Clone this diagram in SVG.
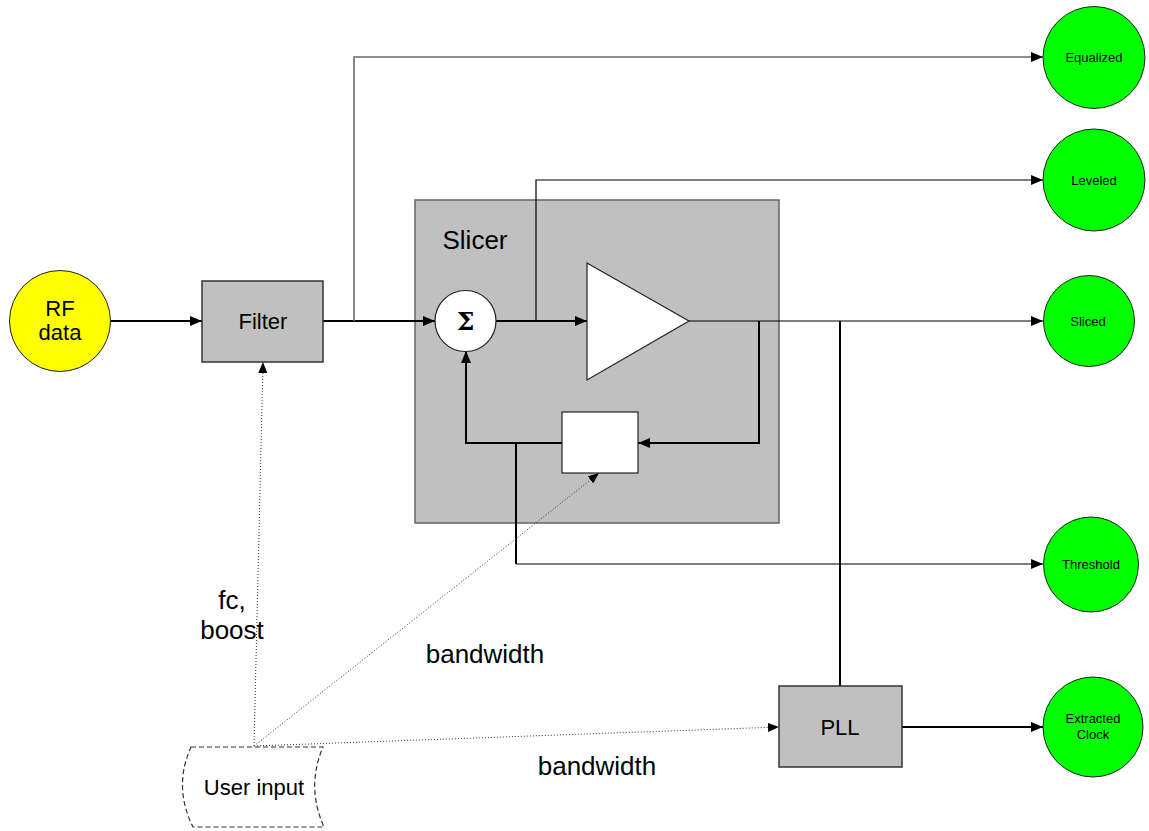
<svg xmlns="http://www.w3.org/2000/svg" width="1149" height="831" viewBox="0 0 1149 831">
<style>
text{font-family:"Liberation Sans",Arial,sans-serif;fill:#000;text-anchor:middle}
.big{font-size:22px}
.lab{font-size:26px}
.sm{font-size:13px}
.box{fill:#c0c0c0;stroke:#333;stroke-width:1.5}
.green{fill:#00ff00;stroke:#222;stroke-width:1}
.w{fill:#fff;stroke:#222;stroke-width:1.2}
.thick{fill:none;stroke:#000;stroke-width:2}
.thin{fill:none;stroke:#000;stroke-width:1.2}
.gray{fill:none;stroke:#6a6a6a;stroke-width:1.6}
.dot{fill:none;stroke:#333;stroke-width:1;stroke-dasharray:1,2}
</style>
<defs>
<marker id="arr" viewBox="0 0 12 10" refX="12" refY="5" markerWidth="12" markerHeight="10" markerUnits="userSpaceOnUse" orient="auto">
<path d="M0,0 L12,5 L0,10 Z" fill="#000"/>
</marker>
<marker id="arrs" viewBox="0 0 11 9" refX="11" refY="4.5" markerWidth="11" markerHeight="9" markerUnits="userSpaceOnUse" orient="auto">
<path d="M0,0 L11,4.5 L0,9 Z" fill="#000"/>
</marker>
</defs>
<rect width="1149" height="831" fill="#fff"/>
<g id="slicer">
<rect x="415" y="200" width="364" height="323" fill="#c0c0c0" stroke="#666" stroke-width="1.5"/>
<text x="475" y="249" style="font-size:26px">Slicer</text>
</g>
<g id="connectors">
<path class="thick" d="M111,321 H202" marker-end="url(#arr)"/>
<path class="thick" d="M323,321 H435" marker-end="url(#arr)"/>
<path class="gray" d="M354,321 V57 H1043" marker-end="url(#arr)"/>
<path class="thick" d="M496,321 H587" marker-end="url(#arr)"/>
<path class="thin" d="M536,321 V180 H1043" marker-end="url(#arr)"/>
<path class="thin" d="M689,321 H1043" marker-end="url(#arr)"/>
<path class="thick" d="M759,321 V443 H638" marker-end="url(#arr)"/>
<path class="thick" d="M562,443 H466 V351" marker-end="url(#arr)"/>
<path class="thick" d="M516,443 V564"/>
<path class="thin" d="M516,564 H1043" marker-end="url(#arr)"/>
<path class="thick" d="M840,321 V686"/>
<path class="thick" d="M902,727 H1043" marker-end="url(#arr)"/>
<path class="dot" d="M254,746 L263,362" marker-end="url(#arrs)"/>
<path class="dot" d="M254,746 L599,473" marker-end="url(#arrs)"/>
<path class="dot" d="M254,746 L779,727" marker-end="url(#arrs)"/>
</g>
<g id="rf-data">
<circle cx="60" cy="321" r="50.5" fill="#ffff00" stroke="#222" stroke-width="1"/>
<text class="big" x="60" y="316">RF</text>
<text class="big" x="60" y="340">data</text>
</g>
<g id="filter">
<rect class="box" x="202" y="281" width="121" height="81"/>
<text class="big" x="263" y="329">Filter</text>
</g>
<g id="sum">
<circle class="w" cx="465.5" cy="321" r="30.5"/>
<text x="465.5" y="330" style="font-family:'DejaVu Serif','Liberation Serif',serif;font-size:25px;font-weight:bold">Σ</text>
</g>
<g id="amp">
<polygon class="w" points="587,263 587,380 689,321"/>
</g>
<g id="level-box">
<rect class="w" x="562" y="412" width="76" height="61"/>
</g>
<g id="pll">
<rect class="box" x="779" y="686" width="123" height="81"/>
<text class="big" x="840" y="735">PLL</text>
</g>
<g id="user-input">
<path d="M191,747 L323,747 Q306,787 324,827 L193,827 Q173,787 191,747 Z" fill="#fff" stroke="#333" stroke-width="1.2" stroke-dasharray="5,3"/>
<text class="big" x="254" y="795">User input</text>
</g>
<g id="equalized">
<circle class="green" cx="1094" cy="57.5" r="51"/>
<text class="sm" x="1094" y="62">Equalized</text>
</g>
<g id="leveled">
<circle class="green" cx="1094" cy="180" r="51"/>
<text class="sm" x="1094" y="185">Leveled</text>
</g>
<g id="sliced">
<circle class="green" cx="1089" cy="321" r="45.5"/>
<text class="sm" x="1088" y="326">Sliced</text>
</g>
<g id="threshold">
<circle class="green" cx="1091" cy="564.5" r="47.5"/>
<text class="sm" x="1091" y="569">Threshold</text>
</g>
<g id="extracted-clock">
<circle class="green" cx="1093" cy="727" r="50"/>
<text class="sm" x="1093" y="723">Extracted</text>
<text class="sm" x="1093" y="739">Clock</text>
</g>
<g id="labels">
<text class="lab" x="232" y="609">fc,</text>
<text class="lab" x="232" y="639">boost</text>
<text class="lab" x="485" y="663">bandwidth</text>
<text class="lab" x="597" y="775">bandwidth</text>
</g>
</svg>
